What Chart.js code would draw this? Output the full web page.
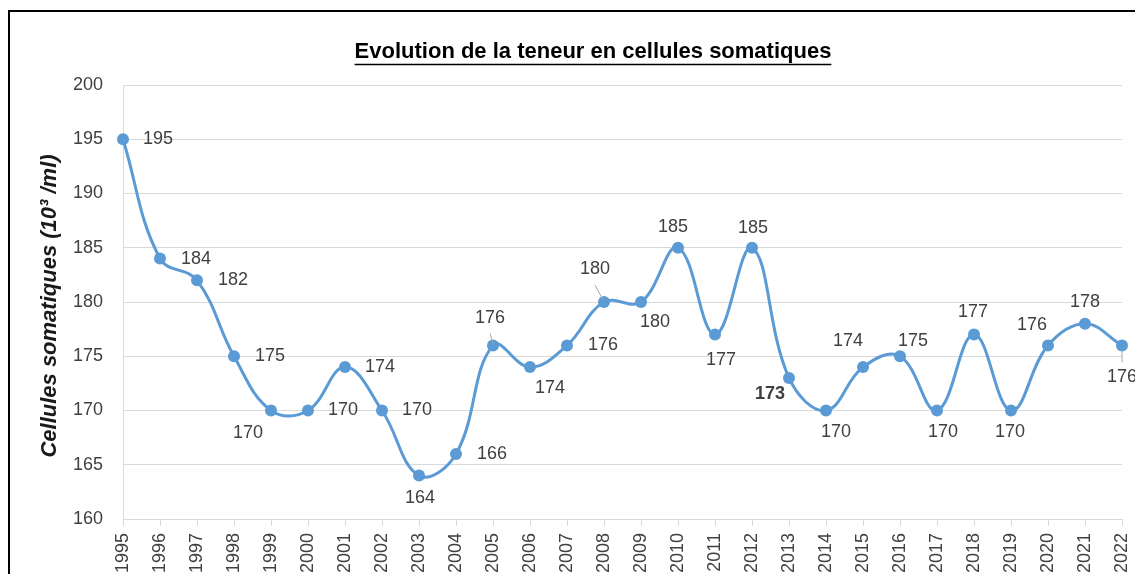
<!DOCTYPE html>
<html>
<head>
<meta charset="utf-8">
<script src="https://cdn.jsdelivr.net/npm/chart.js@4/dist/chart.umd.min.js"></script>
<style>
  html, body { margin: 0; padding: 0; background: #ffffff; overflow: hidden; }
  #wrap { width: 1135px; height: 574px; }
</style>
</head>
<body>
<div id="wrap"><canvas id="c" width="1135" height="574"></canvas></div>
<script>
// ---- Data ----
const years = ["1995","1996","1997","1998","1999","2000","2001","2002","2003","2004","2005","2006","2007","2008","2009","2010","2011","2012","2013","2014","2015","2016","2017","2018","2019","2020","2021","2022"];
const cellules = [195,184,182,175,170,170,174,170,164,166,176,174,176,180,180,185,177,185,173,170,174,175,170,177,170,176,178,176];
const yTicks = { min: 160, max: 200, step: 5 };
const chartTitle = "Evolution de la teneur en cellules somatiques";
const yTitle = "Cellules somatiques (10³ /ml)";

// ---- Label placement (offsets from each point, in px) ----
const labelOffsets = [
  [35,0],[36,0],[36,0],[36,0],[-23,23],[35,0],[35,0],[35,0],[1,22],[36,0],
  [-3,-27],[20,21],[36,0],[-9,-33],[14,20],[-5,-21],[6,25],[1,-20],[-19,16],[10,22],
  [-15,-26],[13,-15],[6,22],[-1,-23],[-1,22],[-16,-20],[0,-22],[0,32]
];
const boldLabels = [18];
const leaderLines = { 10: [[-3,-12],[0,-2]], 13: [[-9,-17],[-1,-2]], 27: [[0,5],[0,17]] };

const FONT = "'Liberation Sans', Arial, sans-serif";
const LINE_COLOR = "#5B9BD5";
const TEXT_COLOR = "#404040";

const decorPlugin = {
  id: 'decor',
  beforeDraw(chart) {
    const ctx = chart.ctx;
    ctx.save();
    ctx.fillStyle = '#ffffff';
    ctx.fillRect(0, 0, chart.width, chart.height);
    ctx.strokeStyle = '#000000';
    ctx.lineWidth = 2;
    ctx.strokeRect(9, 11, chart.width + 50, chart.height + 50);
    ctx.restore();
  },
  afterDraw(chart) {
    const ctx = chart.ctx;
    const area = chart.chartArea;
    ctx.save();
    // Title (underlined)
    ctx.font = "bold 22px " + FONT;
    ctx.fillStyle = '#000000';
    ctx.textAlign = 'center';
    ctx.textBaseline = 'middle';
    const tx = 593, ty = 52;
    ctx.fillText(chartTitle, tx, ty);
    const w = ctx.measureText(chartTitle).width;
    ctx.strokeStyle = '#000000';
    ctx.lineWidth = 1.6;
    ctx.beginPath();
    ctx.moveTo(tx - w / 2, 64.5);
    ctx.lineTo(tx + w / 2, 64.5);
    ctx.stroke();

    // Y axis title
    ctx.save();
    ctx.translate(50, (area.top + area.bottom) / 2 + 4);
    ctx.rotate(-Math.PI / 2);
    ctx.font = "italic bold 22px " + FONT;
    ctx.fillStyle = '#1a1a1a';
    ctx.textAlign = 'center';
    ctx.textBaseline = 'middle';
    ctx.fillText(yTitle, 0, 0);
    ctx.restore();

    // Data labels
    const meta = chart.getDatasetMeta(0);
    ctx.textAlign = 'center';
    ctx.textBaseline = 'middle';
    meta.data.forEach((pt, i) => {
      const off = labelOffsets[i];
      const lead = leaderLines[i];
      if (lead) {
        ctx.strokeStyle = '#a6a6a6';
        ctx.lineWidth = 1;
        ctx.beginPath();
        ctx.moveTo(pt.x + lead[0][0], pt.y + lead[0][1]);
        ctx.lineTo(pt.x + lead[1][0], pt.y + lead[1][1]);
        ctx.stroke();
      }
      ctx.font = (boldLabels.includes(i) ? "bold " : "") + "18px " + FONT;
      ctx.fillStyle = TEXT_COLOR;
      ctx.fillText(String(cellules[i]), pt.x + off[0], pt.y + off[1]);
    });
    ctx.restore();
  }
};

new Chart(document.getElementById('c'), {
  type: 'line',
  data: {
    labels: years,
    datasets: [{
      data: cellules,
      borderColor: LINE_COLOR,
      backgroundColor: LINE_COLOR,
      borderWidth: 3,
      pointRadius: 6,
      pointBackgroundColor: LINE_COLOR,
      pointBorderColor: LINE_COLOR,
      pointBorderWidth: 0,
      tension: 0.4,
      fill: false,
      clip: false
    }]
  },
  options: {
    responsive: false,
    animation: false,
    devicePixelRatio: 1,
    layout: { padding: { top: 85, left: 0, right: 13, bottom: 0 } },
    plugins: {
      legend: { display: false },
      title: { display: false },
      tooltip: { enabled: false }
    },
    scales: {
      x: {
        offset: false,
        grid: { drawOnChartArea: false, drawTicks: true, tickLength: 7, color: '#d9d9d9', lineWidth: 1 },
        border: { display: true, color: '#d9d9d9', width: 1 },
        ticks: {
          autoSkip: false, minRotation: 90, maxRotation: 90, padding: 7,
          color: TEXT_COLOR, font: { family: FONT, size: 18 }
        },
        afterFit(scale) { scale.height = 55; scale.paddingLeft = 0; scale.paddingRight = 0; }
      },
      y: {
        min: yTicks.min, max: yTicks.max,
        grid: { drawTicks: false, color: '#d9d9d9', lineWidth: 1 },
        border: { display: true, color: '#d9d9d9', width: 1 },
        ticks: {
          stepSize: yTicks.step, padding: 20,
          color: TEXT_COLOR, font: { family: FONT, size: 18 }
        },
        afterFit(scale) { scale.width = 123; scale.paddingTop = 0; scale.paddingBottom = 0; }
      }
    }
  },
  plugins: [decorPlugin]
});
</script>
</body>
</html>
